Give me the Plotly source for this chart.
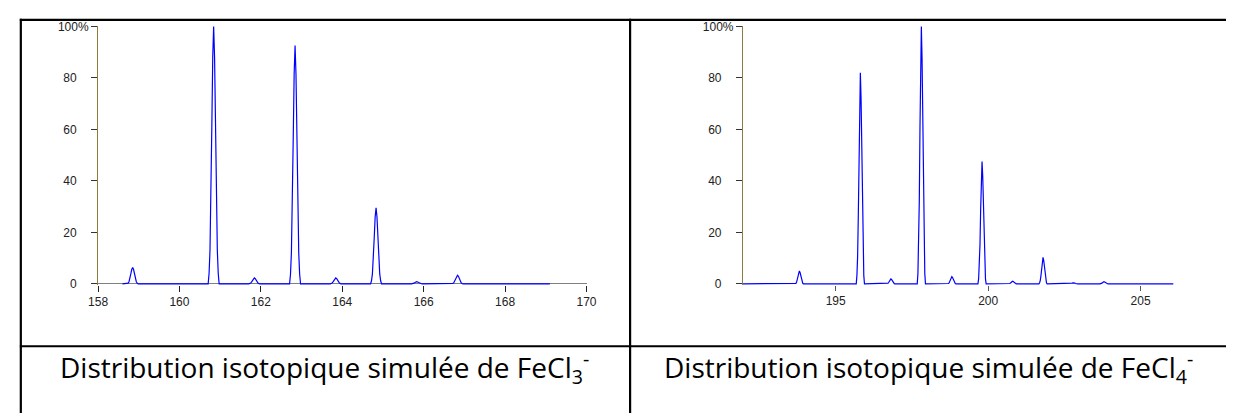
import plotly.graph_objects as go

# ---- data ----
# FeCl3- simulated isotopic distribution
fecl3_mz = [158.85, 160.84, 161.84, 162.84, 163.84, 164.83, 165.83, 166.83]
fecl3_int = [6.3, 100.0, 2.3, 92.6, 2.3, 29.5, 0.8, 3.3]
fecl3_span = [158.6, 169.1]      # m/z where the trace starts / ends

# FeCl4- simulated isotopic distribution
fecl4_mz = [193.81, 195.81, 196.81, 197.81, 198.81, 199.80, 200.80, 201.80, 202.80, 203.80]
fecl4_int = [5.0, 82.0, 1.9, 100.0, 2.8, 47.5, 1.0, 10.3, 0.4, 0.8]
fecl4_span = [191.96, 206.08]

# peak outline (offset in m/z, fraction of peak height)
peak_offsets = [-0.135, -0.1125, -0.09, -0.0675, -0.045, -0.0225, 0.0,
                0.0225, 0.045, 0.0675, 0.09, 0.1125, 0.135]
peak_profile = [0.0, 0.04, 0.13, 0.32, 0.61, 0.88, 1.0,
                0.88, 0.61, 0.32, 0.13, 0.04, 0.0]

x3_ticks = [158, 160, 162, 164, 166, 168, 170]
x4_ticks = [195, 200, 205]
y_ticks = [0, 20, 40, 60, 80, 100]
y_labels = ["0\u2002\u2002", "20\u2002\u2002", "40\u2002\u2002", "60\u2002\u2002", "80\u2002\u2002", "100%"]

captions = ["Distribution isotopique simulée de FeCl<sub>3</sub><sup>-</sup>",
            "Distribution isotopique simulée de FeCl<sub>4</sub><sup>-</sup>"]


def spectrum(mz, inten, span):
    xs, ys = [span[0]], [0.0]
    for c, h in zip(mz, inten):
        for o, p in zip(peak_offsets, peak_profile):
            xs.append(c + o)
            ys.append(h * p)
    xs.append(span[1])
    ys.append(0.0)
    return xs, ys


W, H = 1236, 419


def px_x(v):
    return v / W


def px_y(v):
    return 1 - v / H


fig = go.Figure()
x3, y3 = spectrum(fecl3_mz, fecl3_int, fecl3_span)
x4, y4 = spectrum(fecl4_mz, fecl4_int, fecl4_span)
fig.add_trace(go.Scatter(x=x3, y=y3, mode="lines", line=dict(color="#0000ff", width=1.2),
                         xaxis="x", yaxis="y", showlegend=False, hoverinfo="skip"))
fig.add_trace(go.Scatter(x=x4, y=y4, mode="lines", line=dict(color="#0000ff", width=1.2),
                         xaxis="x2", yaxis="y2", showlegend=False, hoverinfo="skip"))

tickfont = dict(family="Liberation Sans, Arial, sans-serif", size=12, color="#222222")
y_top_px, y_zero_px = 21.0, 286.0
ppu = (y_zero_px - y_top_px) / 100.0
yr = [-0.5, 100.3]
ydom = [px_y(y_zero_px - yr[0] * ppu), px_y(y_top_px - (yr[1] - 100) * ppu)]

common_y = dict(range=yr, tickvals=y_ticks, ticktext=y_labels, ticks="outside", ticklen=6,
                tickcolor="#333333", tickwidth=1, showline=True, linecolor="#8b7d3b",
                linewidth=1, showgrid=False, tickfont=tickfont, domain=ydom, fixedrange=True)

fig.update_layout(
    width=W, height=H, margin=dict(l=0, r=0, t=0, b=0),
    paper_bgcolor="white", plot_bgcolor="white",
    xaxis=dict(domain=[px_x(89.5), px_x(586)], range=[158, 170], tickvals=x3_ticks,
               ticks="outside", ticklen=6, tickcolor="#222222", showline=False,
               showgrid=False, zeroline=False, tickfont=tickfont, anchor="y"),
    yaxis=dict(anchor="x", zeroline=True, zerolinecolor="#808080", zerolinewidth=1.3,
               **common_y),
    xaxis2=dict(domain=[px_x(745), px_x(1182.7)], range=fecl4_span, tickvals=x4_ticks,
                ticks="outside", ticklen=5, tickcolor="#555555", showline=False,
                showgrid=False, zeroline=False, tickfont=tickfont, anchor="y2"),
    yaxis2=dict(anchor="x2", zeroline=False, **common_y),
)

# table borders
border = dict(color="black", width=2.2)
lines = [
    (10, 14.3, 1236, 14.3),
    (11, 13.2, 11, 419),
    (630.3, 13.2, 630.3, 419),
    (10, 350.3, 1236, 350.3),
]
for x0, y0, x1, y1 in lines:
    fig.add_shape(type="line", xref="paper", yref="paper",
                  x0=px_x(x0), y0=px_y(y0), x1=px_x(x1), y1=px_y(y1), line=border)

cap_font = dict(family="Open Sans, Lato, sans-serif", size=28, color="black")
for cx, txt in zip([320, 934], captions):
    fig.add_annotation(xref="paper", yref="paper", x=px_x(cx), y=px_y(372),
                       xanchor="center", yanchor="middle", text=txt, showarrow=False,
                       font=cap_font)

fig.write_html("out.html", config={"displayModeBar": False},
               post_script="document.body.style.margin='0';document.body.style.overflow='hidden';")
